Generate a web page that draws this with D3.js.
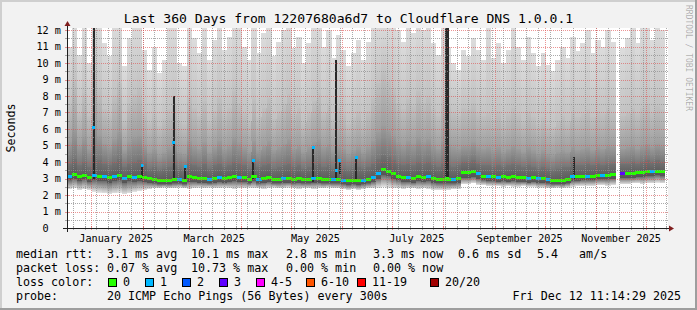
<!DOCTYPE html>
<html>
<head>
<meta charset="utf-8">
<script src="https://cdn.jsdelivr.net/npm/d3@7"></script>
<style>
html, body { margin: 0; padding: 0; background: #f2f2f2; }
svg { display: block; }
text { font-family: "DejaVu Sans Mono", monospace; white-space: pre; }
</style>
</head>
<body>
<div id="chart"></div>
<script>
// ---- data ----
var title = "Last 360 Days from 12207680a6d7 to Cloudflare DNS 1.0.0.1";
var unitLabel = "Seconds";
var watermark = "RRDTOOL / TOBI OETIKER";

// one bin = 3 days, starting Dec 17 2024
var binStart = new Date(2024, 11, 17, 12);
var binDays = 3;

var median = [
  3.15, 3.25, 3.10, 3.20, 3.05, 3.20, 3.10, 3.15, 3.05, 3.10,
  3.20, 3.00, 3.10, 3.05, 3.10, 3.05, 3.00, 2.95, 2.90, 2.90,
  2.90, 2.95, 2.95, 2.90, 3.10, 3.05, 3.00, 3.00, 2.95, 3.00,
  3.05, 3.00, 3.05, 3.10, 3.05, 3.05, 2.95, 3.10, 2.95, 3.00,
  3.05, 2.95, 2.95, 3.00, 3.00, 2.95, 3.00, 2.95, 2.95, 3.00,
  3.00, 2.95, 2.95, 2.95, 2.95, 2.90, 2.85, 2.90, 2.85, 2.90,
  2.95, 3.05, 3.30, 3.55, 3.45, 3.30, 3.15, 3.05, 3.05, 3.00,
  3.10, 3.05, 3.10, 3.00, 2.95, 2.95, 2.95, 2.95, 3.00, 3.35,
  3.35, 3.40, 3.30, 3.15, 3.10, 3.10, 3.05, 3.10, 3.05, 3.10,
  3.05, 3.05, 3.00, 3.05, 3.00, 3.00, 2.95, 2.90, 2.90, 2.90,
  2.95, 3.10, 3.10, 3.15, 3.15, 3.15, 3.20, 3.20, 3.20, 3.25,
  null, 3.30, 3.30, 3.30, 3.35, 3.35, 3.40, 3.40, 3.45, 3.40
];

// lost pings (of 20) per bin
var loss = [
  1, 0, 0, 0, 0, 1, 0, 1, 0, 1,
  0, 1, 0, 1, 0, 0, 0, 0, 0, 0,
  0, 0, 1, 0, 0, 0, 0, 0, 1, 0,
  1, 0, 0, 0, 1, 0, 0, 0, 1, 0,
  0, 0, 0, 1, 0, 0, 0, 0, 0, 1,
  0, 0, 0, 1, 0, 1, 0, 0, 0, 1,
  0, 1, 1, 0, 0, 0, 0, 0, 1, 0,
  0, 0, 1, 0, 0, 0, 0, 1, 0, 0,
  0, 0, 1, 0, 1, 0, 1, 0, 0, 0,
  0, 0, 1, 0, 1, 0, 1, 0, 0, 0,
  0, 1, 0, 0, 1, 0, 0, 1, 0, 0,
  null, 3, 0, 0, 0, 0, 0, 1, 0, 0
];

// smoke: lowest ping
var smokeLow = [
  2.35, 2.40, 2.30, 2.35, 2.30, 2.20, 2.15, 2.10, 2.05, 2.10,
  2.15, 2.05, 2.10, 2.20, 2.25, 2.30, 2.35, 2.40, 2.40, 2.45,
  2.40, 2.40, 2.45, 2.40, 2.35, 2.40, 2.45, 2.40, 2.45, 2.40,
  2.40, 2.45, 2.40, 2.35, 2.40, 2.40, 2.45, 2.40, 2.40, 2.35,
  2.40, 2.45, 2.40, 2.40, 2.45, 2.40, 2.35, 2.40, 2.40, 2.35,
  2.40, 2.40, 2.45, 2.40, 2.40, 2.35, 2.30, 2.35, 2.30, 2.35,
  2.40, 2.40, 2.45, 2.50, 2.45, 2.40, 2.40, 2.35, 2.40, 2.40,
  2.35, 2.40, 2.35, 2.30, 2.30, 2.30, 2.30, 2.35, 2.35, 2.65,
  2.65, 2.70, 2.60, 2.60, 2.55, 2.55, 2.55, 2.50, 2.55, 2.50,
  2.50, 2.55, 2.50, 2.50, 2.45, 2.45, 2.40, 2.40, 2.45, 2.40,
  2.45, 2.50, 2.55, 2.55, 2.55, 2.55, 2.60, 2.60, 2.55, 2.60,
  null, 2.65, 2.65, 2.70, 2.70, 2.65, 2.70, 2.70, 2.75, 2.70
];

// smoke: lower edge of the dense part
var smokeLow2 = [
  2.90, 3.00, 2.85, 2.95, 2.80, 2.90, 2.85, 2.85, 2.75, 2.85,
  2.90, 2.75, 2.85, 2.80, 2.85, 2.80, 2.75, 2.70, 2.65, 2.65,
  2.65, 2.70, 2.70, 2.65, 2.80, 2.80, 2.75, 2.75, 2.70, 2.75,
  2.80, 2.75, 2.80, 2.85, 2.80, 2.80, 2.70, 2.85, 2.70, 2.75,
  2.80, 2.70, 2.70, 2.75, 2.75, 2.70, 2.75, 2.70, 2.70, 2.75,
  2.75, 2.70, 2.70, 2.70, 2.70, 2.65, 2.60, 2.65, 2.60, 2.65,
  2.70, 2.80, 3.00, 3.20, 3.15, 3.00, 2.90, 2.80, 2.80, 2.75,
  2.85, 2.80, 2.85, 2.75, 2.70, 2.70, 2.70, 2.70, 2.75, 3.05,
  3.05, 3.10, 3.00, 2.90, 2.85, 2.85, 2.80, 2.85, 2.80, 2.85,
  2.80, 2.80, 2.75, 2.80, 2.75, 2.75, 2.70, 2.65, 2.65, 2.65,
  2.70, 2.85, 2.85, 2.90, 2.90, 2.90, 2.95, 2.95, 2.95, 3.00,
  null, 3.05, 3.05, 3.05, 3.10, 3.10, 3.15, 3.15, 3.20, 3.15
];

// smoke: upper edges, dark -> light
var smokeHigh1 = [
  3.9, 4.2, 3.8, 4.0, 3.7, 4.3, 4.1, 3.9, 3.8, 4.0,
  4.2, 3.7, 3.9, 4.0, 4.1, 3.9, 3.6, 3.7, 3.5, 3.6,
  3.7, 3.8, 3.6, 3.5, 3.9, 3.8, 3.7, 3.9, 3.6, 3.8,
  3.9, 3.7, 3.8, 4.0, 3.9, 3.8, 3.6, 3.9, 3.7, 3.8,
  3.9, 3.6, 3.7, 3.8, 3.9, 3.7, 3.8, 3.6, 3.7, 3.8,
  3.9, 3.7, 3.8, 3.6, 3.7, 3.6, 3.5, 3.6, 3.7, 3.6,
  3.7, 3.9, 4.2, 4.4, 4.3, 4.1, 3.9, 3.8, 3.9, 3.8,
  4.0, 3.9, 4.0, 3.8, 3.7, 3.9, 3.8, 3.7, 3.8, 4.0,
  4.0, 4.1, 3.9, 3.8, 3.8, 3.7, 3.8, 3.7, 3.8, 3.9,
  3.8, 3.7, 3.8, 3.7, 3.6, 3.7, 3.6, 3.5, 3.6, 3.7,
  3.7, 3.9, 3.8, 3.8, 3.9, 3.8, 3.9, 3.8, 3.9, 3.9,
  null, 3.9, 3.9, 4.0, 3.9, 4.0, 4.1, 4.0, 4.1, 4.0
];
var smokeHigh2 = [
  5.2, 6.0, 5.0, 5.5, 4.8, 6.2, 5.6, 5.1, 4.9, 5.4,
  5.8, 4.7, 5.2, 5.5, 5.6, 5.0, 4.6, 4.8, 4.4, 4.6,
  4.9, 5.1, 4.6, 4.5, 5.3, 5.0, 4.8, 5.2, 4.6, 4.9,
  5.3, 4.8, 5.0, 5.5, 5.2, 4.9, 4.6, 5.3, 4.7, 5.0,
  5.3, 4.7, 4.9, 5.1, 5.4, 4.8, 5.0, 4.6, 4.9, 5.2,
  5.4, 4.9, 5.1, 4.7, 5.0, 4.8, 4.5, 4.7, 4.9, 4.6,
  4.9, 5.3, 5.8, 6.2, 5.9, 5.6, 5.2, 5.0, 5.3, 5.1,
  5.5, 5.2, 5.4, 5.0, 4.8, 5.3, 5.1, 4.9, 4.8, 5.0,
  5.0, 5.2, 4.9, 4.8, 4.9, 4.7, 4.9, 4.6, 4.8, 5.0,
  4.8, 4.6, 4.9, 4.7, 4.5, 4.7, 4.5, 4.4, 4.6, 4.7,
  4.6, 4.9, 4.7, 4.8, 4.9, 4.7, 4.9, 4.8, 5.0, 4.9,
  null, 4.8, 4.9, 5.0, 4.8, 5.0, 5.1, 4.9, 5.1, 5.0
];
var smokeHigh3 = [
  7.5, 9.0, 7.0, 8.2, 6.8, 9.5, 8.4, 7.2, 6.9, 8.0,
  8.8, 6.5, 7.6, 8.1, 8.5, 7.0, 6.4, 6.9, 6.2, 6.6,
  7.2, 7.6, 6.5, 6.3, 8.0, 7.3, 6.8, 7.7, 6.5, 7.1,
  7.9, 6.9, 7.3, 8.3, 7.6, 7.0, 6.5, 7.8, 6.7, 7.3,
  7.9, 6.6, 7.1, 7.5, 8.1, 6.9, 7.3, 6.4, 7.0, 7.7,
  8.2, 7.0, 7.5, 6.6, 7.3, 6.9, 6.3, 6.7, 7.1, 6.5,
  7.1, 7.9, 8.8, 9.5, 9.0, 8.4, 7.6, 7.2, 7.8, 7.4,
  8.3, 7.6, 8.0, 7.2, 6.8, 7.8, 7.4, 7.0, 6.8, 7.3,
  7.2, 7.6, 7.0, 6.8, 7.0, 6.6, 7.1, 6.5, 6.9, 7.3,
  6.9, 6.5, 7.1, 6.7, 6.3, 6.7, 6.3, 6.1, 6.5, 6.8,
  6.5, 7.1, 6.7, 6.9, 7.2, 6.7, 7.1, 6.9, 7.3, 7.0,
  null, 6.8, 7.0, 7.3, 6.9, 7.3, 7.5, 7.0, 7.4, 7.2
];
var smokeHigh4 = [
  11.0, 12.5, 10.5, 12.5, 10.0, 12.5, 12.5, 11.2, 10.4, 12.5,
  12.5, 9.8, 11.5, 12.5, 12.5, 10.8, 9.6, 11.0, 9.4, 10.2,
  12.5, 12.5, 10.0, 9.8, 12.5, 11.5, 10.6, 12.5, 10.2, 11.4,
  12.5, 10.8, 11.6, 12.5, 12.5, 11.0, 10.2, 12.5, 10.6, 11.8,
  12.5, 10.4, 11.3, 12.0, 12.5, 10.9, 11.6, 10.0, 11.2, 12.5,
  12.5, 11.0, 12.0, 10.3, 11.7, 10.8, 9.8, 10.6, 11.4, 10.2,
  11.3, 12.5, 12.5, 12.5, 12.5, 12.5, 12.0, 11.3, 12.5, 11.8,
  12.5, 12.0, 12.5, 11.2, 10.5, 12.5, 11.0, 10.0, 9.6, 10.8,
  10.4, 11.5, 10.8, 10.2, 12.5, 10.3, 11.2, 10.0, 10.8, 12.5,
  11.0, 10.2, 11.6, 10.6, 9.8, 10.6, 9.9, 9.5, 10.2, 11.0,
  10.3, 11.6, 10.7, 11.2, 12.0, 10.6, 11.4, 11.0, 12.0, 11.3,
  null, 10.9, 11.5, 12.5, 11.2, 12.5, 12.5, 11.4, 12.5, 12.0
];

// short single-sample spikes
var spikeDates = ["2025-01-02", "2025-01-31", "2025-02-19", "2025-02-26", "2025-04-08", "2025-05-14",
                  "2025-05-28", "2025-05-30", "2025-06-09", "2025-08-02", "2025-08-03", "2025-10-18"];
var spikeLow  = [3.0, 3.0, 2.9, 2.9, 3.0, 2.8, 3.0, 3.3, 2.9, 3.0, 3.0, 3.0];
var spikeHigh = [12.5, 3.8, 8.0, 3.7, 4.1, 5.0, 10.2, 4.1, 4.3, 12.5, 12.5, 4.3];
var spikeMedian = [6.1, 3.8, 5.2, 3.7, 4.1, 4.9, 3.5, 4.1, 4.3, 3.0, 3.0, 3.1];
var spikeLoss = [1, 1, 1, 1, 1, 1, 1, 1, 1, 0, 0, 1];

var yTicks = [0, 1, 2, 3, 4, 5, 6, 7, 8, 9, 10, 11, 12];
var yTickLabels = ["0  ", "1 m", "2 m", "3 m", "4 m", "5 m", "6 m", "7 m", "8 m", "9 m", "10 m", "11 m", "12 m"];
var xLabelMonths = ["2025-01", "2025-03", "2025-05", "2025-07", "2025-09", "2025-11"];
var xTickLabels = ["January 2025", "March 2025", "May 2025", "July 2025", "September 2025", "November 2025"];

var lossLabels = ["0", "1", "2", "3", "4-5", "6-10", "11-19", "20/20"];
var lossColors = ["#26ff00", "#00b8ff", "#0059ff", "#5e00ff", "#ff00ff", "#ff5500", "#ff0000", "#a10000"];

var rttStats = ["3.1 ms avg", "10.1 ms max", "2.8 ms min", "3.3 ms now", "0.6 ms sd", "5.4   am/s"];
var lossStats = ["0.07 % avg", "10.73 % max", "0.00 % min", "0.00 % now"];
var probeText = "20 ICMP Echo Pings (56 Bytes) every 300s";
var stampText = "Fri Dec 12 11:14:29 2025";

// ---- layout ----
var W = 697, H = 310;
var L = 67, R = 668, T = 28, B = 228;
var statCols = [107, 191, 286, 373, 458, 537];
var boxCols = [108.5, 145.5, 182.5, 219.5, 256.5, 306.5, 357.5, 430.5];

var x = d3.scaleTime()
    .domain([new Date(2025, 0, 1), new Date(2025, 11, 1)])
    .range([91.2, 646]);
var y = d3.scaleLinear().domain([0, 12]).range([228, 30]);

var lossIndex = function (n) {
    if (n <= 3) return n;
    if (n <= 5) return 4;
    if (n <= 10) return 5;
    if (n <= 19) return 6;
    return 7;
};

var bins = median.map(function (m, i) {
    return {
        t0: d3.timeDay.offset(binStart, i * binDays),
        t1: d3.timeDay.offset(binStart, (i + 1) * binDays),
        med: m, loss: loss[i],
        lo: smokeLow[i], lo2: smokeLow2[i],
        h1: smokeHigh1[i], h2: smokeHigh2[i], h3: smokeHigh3[i], h4: smokeHigh4[i]
    };
}).filter(function (d) { return d.med != null; });

var parseDay = d3.timeParse("%Y-%m-%d");
var spikes = spikeDates.map(function (s, i) {
    return { t: parseDay(s), lo: spikeLow[i], hi: spikeHigh[i], med: spikeMedian[i], loss: spikeLoss[i] };
});

var svg = d3.select("#chart").append("svg").attr("width", W).attr("height", H);
var defs = svg.append("defs");

svg.append("rect").attr("width", W).attr("height", H).attr("fill", "#f2f2f2");
svg.append("rect").attr("x", 0).attr("y", 0).attr("width", W).attr("height", 2).attr("fill", "#cfcfcf");
svg.append("rect").attr("x", 0).attr("y", 0).attr("width", 2).attr("height", H).attr("fill", "#cfcfcf");
svg.append("rect").attr("x", 0).attr("y", H - 2).attr("width", W).attr("height", 2).attr("fill", "#9e9e9e");
svg.append("rect").attr("x", W - 2).attr("y", 0).attr("width", 2).attr("height", H).attr("fill", "#9e9e9e");

defs.append("clipPath").attr("id", "plotclip")
    .append("rect").attr("x", L).attr("y", T).attr("width", R - L).attr("height", B - T);

svg.append("rect").attr("x", L).attr("y", T).attr("width", R - L).attr("height", B - T).attr("fill", "#ffffff");

var g = svg.append("g").attr("clip-path", "url(#plotclip)").attr("shape-rendering", "crispEdges");

// smoke segments, each shaded from its lower colour to its upper colour
var bands = [
    { lo: "lo",  hi: "lo2", c0: "#e2e2e2", c1: "#6a6a6a" },
    { lo: "lo2", hi: "h1",  c0: "#555555", c1: "#727272" },
    { lo: "h1",  hi: "h2",  c0: "#767676", c1: "#9c9c9c" },
    { lo: "h2",  hi: "h3",  c0: "#9e9e9e", c1: "#c0c0c0" },
    { lo: "h3",  hi: "h4",  c0: "#c2c2c2", c1: "#dcdcdc" }
];
bands.forEach(function (b, k) {
    var grad = defs.append("linearGradient").attr("id", "band" + k)
        .attr("x1", 0).attr("y1", 1).attr("x2", 0).attr("y2", 0);
    grad.append("stop").attr("offset", 0).attr("stop-color", b.c0);
    grad.append("stop").attr("offset", 1).attr("stop-color", b.c1);
    g.append("g").selectAll("rect").data(bins).join("rect")
        .attr("x", function (d) { return x(d.t0); })
        .attr("width", function (d) { return x(d.t1) - x(d.t0) + 0.3; })
        .attr("y", function (d) { return y(d[b.hi]); })
        .attr("height", function (d) { return Math.max(0.01, y(d[b.lo]) - y(d[b.hi])); })
        .attr("fill", "url(#band" + k + ")");
});

g.append("g").selectAll("rect").data(spikes).join("rect")
    .attr("x", function (d) { return x(d.t); })
    .attr("width", 2)
    .attr("y", function (d) { return y(d.hi); })
    .attr("height", function (d) { return y(d.lo) - y(d.hi); })
    .attr("fill", "#2a2a2a");

g.append("g").selectAll("rect").data(bins).join("rect")
    .attr("x", function (d) { return x(d.t0); })
    .attr("width", function (d) { return x(d.t1) - x(d.t0) + 0.3; })
    .attr("y", function (d) { return y(d.med) - 1.5; })
    .attr("height", 3)
    .attr("fill", function (d) { return lossColors[lossIndex(d.loss)]; });

g.append("g").selectAll("rect").data(spikes).join("rect")
    .attr("x", function (d) { return x(d.t) - 0.5; })
    .attr("width", 3)
    .attr("y", function (d) { return y(d.med) - 1.5; })
    .attr("height", 3)
    .attr("fill", function (d) { return lossColors[lossIndex(d.loss)]; });

// ---- grid ----
var grid = svg.append("g").attr("fill", "none").attr("stroke-dasharray", "1,1");
var minorY = y.ticks(24).filter(function (v) { return v % 1 !== 0; });
var majorY = yTicks.filter(function (v) { return v > 0; });
var tStart = x.invert(L), tEnd = x.invert(R);
var months = d3.timeMonth.range(tStart, tEnd);
var weeks = d3.timeSaturday.range(tStart, tEnd);
var py = function (v) { return Math.round(y(v)) + 0.5; };
var px = function (t) { return Math.round(x(t)) + 0.5; };

grid.selectAll(".wk").data(weeks).join("line").attr("class", "wk")
    .attr("x1", px).attr("x2", px).attr("y1", T).attr("y2", B)
    .attr("stroke", "rgba(143,143,143,0.75)");
grid.selectAll(".hm").data(minorY).join("line").attr("class", "hm")
    .attr("x1", L).attr("x2", R).attr("y1", py).attr("y2", py)
    .attr("stroke", "rgba(143,143,143,0.75)");
grid.selectAll(".mo").data(months).join("line").attr("class", "mo")
    .attr("x1", px).attr("x2", px).attr("y1", T).attr("y2", B)
    .attr("stroke", "rgba(222,79,79,0.6)");
grid.selectAll(".hM").data(majorY).join("line").attr("class", "hM")
    .attr("x1", L).attr("x2", R).attr("y1", py).attr("y2", py)
    .attr("stroke", "rgba(222,79,79,0.6)");

// axis ticks
var ticks = svg.append("g").attr("fill", "none");
ticks.selectAll(".tw").data(weeks).join("line").attr("class", "tw")
    .attr("x1", px).attr("x2", px).attr("y1", B - 2).attr("y2", B + 2)
    .attr("stroke", "rgba(143,143,143,0.75)");
ticks.selectAll(".tm").data(months).join("line").attr("class", "tm")
    .attr("x1", px).attr("x2", px).attr("y1", B - 2).attr("y2", B + 2)
    .attr("stroke", "rgba(222,79,79,0.6)");
ticks.selectAll(".ty").data(minorY).join("line").attr("class", "ty")
    .attr("x1", L - 2).attr("x2", L + 2).attr("y1", py).attr("y2", py)
    .attr("stroke", "rgba(143,143,143,0.75)");
ticks.selectAll(".tY").data(majorY).join("line").attr("class", "tY")
    .attr("x1", L - 2).attr("x2", L + 2).attr("y1", py).attr("y2", py)
    .attr("stroke", "rgba(222,79,79,0.6)");

// axes + arrows
svg.append("line").attr("x1", L - 4).attr("x2", R + 2).attr("y1", B + 0.5).attr("y2", B + 0.5)
    .attr("stroke", "#1f1f1f");
svg.append("line").attr("x1", L + 0.5).attr("x2", L + 0.5).attr("y1", B + 4).attr("y2", T - 2)
    .attr("stroke", "#1f1f1f");
svg.append("path").attr("d", "M" + (L - 2.5) + "," + (T - 2) + "L" + (L + 3.5) + "," + (T - 2) + "L" + (L + 0.5) + "," + (T - 7) + "Z")
    .attr("fill", "#801f1f");
svg.append("path").attr("d", "M" + (R + 1) + "," + (B - 2.5) + "L" + (R + 1) + "," + (B + 3.5) + "L" + (R + 6) + "," + (B + 0.5) + "Z")
    .attr("fill", "#801f1f");

// axis labels
svg.append("g").selectAll("text").data(yTicks).join("text")
    .attr("x", 61).attr("y", function (v) { return y(v) + 3.6; })
    .attr("text-anchor", "end").attr("font-size", "10.2px").attr("fill", "#000")
    .attr("xml:space", "preserve")
    .text(function (v, i) { return yTickLabels[i]; });

var parseMonth = d3.timeParse("%Y-%m");
svg.append("g").selectAll("text").data(xLabelMonths).join("text")
    .attr("x", function (m) { return x(d3.timeDay.offset(parseMonth(m), 15)); })
    .attr("y", 241.5)
    .attr("text-anchor", "middle").attr("font-size", "10.2px").attr("fill", "#000")
    .text(function (m, i) { return xTickLabels[i]; });

svg.append("text").attr("transform", "translate(15," + ((T + B) / 2) + ") rotate(-90)")
    .attr("text-anchor", "middle").attr("font-size", "11.66px").attr("fill", "#000")
    .text(unitLabel);

svg.append("text").attr("x", W / 2).attr("y", 23)
    .attr("text-anchor", "middle").attr("font-size", "13.1px").attr("fill", "#000")
    .text(title);

svg.append("text").attr("transform", "translate(686,5) rotate(90)")
    .attr("font-size", "8px").attr("fill", "rgba(0,0,0,0.3)")
    .text(watermark);

// ---- legend ----
var leg = svg.append("g").attr("font-size", "11.66px").attr("fill", "#000");
var rows = [258, 272, 286, 300];
leg.append("text").attr("x", 16).attr("y", rows[0]).text("median rtt:");
leg.selectAll(".rs").data(rttStats).join("text").attr("class", "rs")
    .attr("x", function (d, i) { return statCols[i]; }).attr("y", rows[0])
    .attr("xml:space", "preserve").text(function (d) { return d; });
leg.append("text").attr("x", 16).attr("y", rows[1]).text("packet loss:");
leg.selectAll(".ls").data(lossStats).join("text").attr("class", "ls")
    .attr("x", function (d, i) { return statCols[i]; }).attr("y", rows[1])
    .text(function (d) { return d; });
leg.append("text").attr("x", 16).attr("y", rows[2]).text("loss color:");
leg.selectAll(".lb").data(lossLabels).join("rect").attr("class", "lb")
    .attr("x", function (d, i) { return boxCols[i]; }).attr("y", rows[2] - 7.5)
    .attr("width", 8).attr("height", 8)
    .attr("fill", function (d, i) { return lossColors[i]; })
    .attr("stroke", "#000").attr("stroke-width", 1);
leg.selectAll(".ll").data(lossLabels).join("text").attr("class", "ll")
    .attr("x", function (d, i) { return boxCols[i] + 14.5; }).attr("y", rows[2])
    .text(function (d) { return d; });
leg.append("text").attr("x", 16).attr("y", rows[3]).text("probe:");
leg.append("text").attr("x", statCols[0]).attr("y", rows[3]).text(probeText);
leg.append("text").attr("x", 681).attr("y", rows[3]).attr("text-anchor", "end").text(stampText);
</script>
</body>
</html>
